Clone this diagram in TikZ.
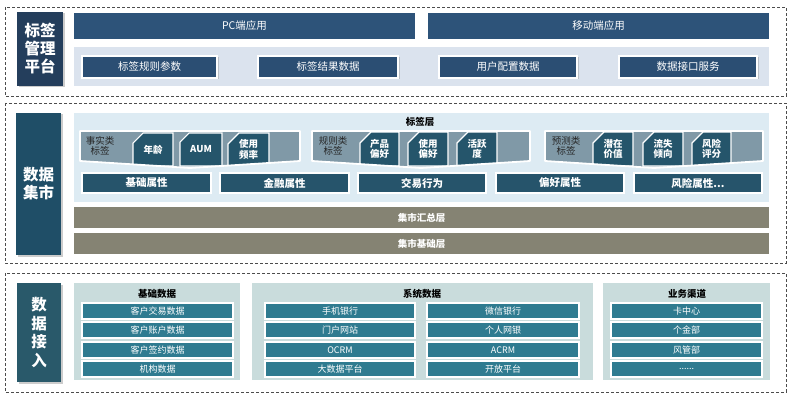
\documentclass[tikz,border=0pt]{standalone}
\usepackage{fontspec}
\setmainfont{Noto Sans CJK SC}
\usetikzlibrary{shapes.misc,shadows}
\definecolor{navyA}{HTML}{243E5C}
\definecolor{barA}{HTML}{2D5379}
\definecolor{btnA}{HTML}{2B4E73}
\definecolor{panelA}{HTML}{DBE3EE}
\definecolor{navyB}{HTML}{1F4E67}
\definecolor{panelB}{HTML}{DDEBF3}
\definecolor{tagdark}{HTML}{25556B}
\definecolor{taggray}{HTML}{8099A7}
\definecolor{attr}{HTML}{26546B}
\definecolor{olive}{HTML}{858373}
\definecolor{navyC}{HTML}{29596A}
\definecolor{panelC}{HTML}{C9DCDC}
\definecolor{itemC}{HTML}{2F7B90}
\newcommand\rbox[7]{%
  \path ({(#3+#5)/2},{(#4+#6)/2}) node[#1, minimum width={(#5-#3)*1pt}, minimum height={(#6-#4)*1pt}] (#2) {#7};}
\begin{document}
\begin{tikzpicture}[x=1pt,y=-1pt,
  dashedframe/.style={draw=black!70, dash pattern=on 3pt off 2pt, line width=0.8pt},
  sidelabel/.style={text=white, font=\fontsize{15.5}{18}\selectfont\bfseries, align=center, inner sep=0pt,
     drop shadow={opacity=0.4, shadow xshift=1.5pt, shadow yshift=-1.5pt}},
  topbar/.style={fill=barA, text=white, font=\fontsize{10.5}{12}\selectfont, inner sep=0pt},
  panel/.style={inner sep=0pt},
  btn/.style={fill=btnA, draw=white, line width=1.5pt, text=white, font=\fontsize{10.5}{12}\selectfont, inner sep=0pt,
     drop shadow={opacity=0.35, shadow xshift=1.5pt, shadow yshift=-1.5pt}},
  tagbox/.style={chamfered rectangle, chamfered rectangle corners=north west, chamfered rectangle xsep=5.5pt, chamfered rectangle ysep=5.5pt,
     fill=tagdark, draw=white, line width=1.2pt, text=white, font=\fontsize{9.5}{10.5}\selectfont\bfseries, align=center, inner sep=0pt},
  grouptext/.style={text=black!85, font=\fontsize{9.5}{9.5}\selectfont, align=center, inner sep=0pt},
  attrbar/.style={fill=attr, draw=white, line width=1.5pt, text=white, font=\fontsize{10.5}{12}\selectfont\bfseries, inner sep=0pt},
  olivebar/.style={fill=olive, text=white, font=\fontsize{9.5}{11}\selectfont\bfseries, inner sep=0pt},
  item/.style={fill=itemC, draw=white, line width=1.5pt, text=white, font=\fontsize{9}{10}\selectfont, inner sep=0pt},
  title/.style={text=black, font=\fontsize{9.5}{11}\selectfont\bfseries, inner sep=0pt}
]
\useasboundingbox (0,0) rectangle (794,398);
\fill[white] (0,0) rectangle (794,398);

% ---------- section 1 ----------
\draw[dashedframe] (5,7) rectangle (786,96);
\rbox{sidelabel,fill=navyA}{lab1}{17}{12}{63}{86}{标签\\管理\\平台}
\rbox{topbar}{pc}{74}{13}{415}{39}{PC端应用}
\rbox{topbar}{mob}{428}{13}{769}{39}{移动端应用}
\rbox{panel,fill=panelA}{p1}{74}{47}{769}{86}{}
\rbox{btn}{b1}{82}{56}{217}{78}{标签规则参数}
\rbox{btn}{b2}{258}{56}{398}{78}{标签结果数据}
\rbox{btn}{b3}{439}{56}{577}{78}{用户配置数据}
\rbox{btn}{b4}{619}{56}{757}{78}{数据接口服务}

% ---------- section 2 ----------
\draw[dashedframe] (5,103) rectangle (786,263);
\rbox{sidelabel,fill=navyB}{lab2}{16}{113}{61}{255}{数据\\集市}
\rbox{panel,fill=panelB}{p2}{74}{113}{769}{202}{}
\node[title] (tl) at (420,122) {标签层};

% group 1
\fill[taggray] (80,131) -- (300,131) -- (300,161) -- (190,168) -- (80,161) -- cycle;
\begin{scope}
\clip (80,131) -- (300,131) -- (300,161) -- (190,168) -- (80,161) -- cycle;
\rbox{tagbox}{t11}{133}{133}{173}{166}{年龄}
\rbox{tagbox}{t12}{180}{133}{222}{166}{AUM}
\rbox{tagbox}{t13}{228}{133}{269}{166}{使用\\频率}
\end{scope}
\draw[white, line width=1.8pt, line join=round] (80,131) -- (300,131) -- (300,161) -- (190,168) -- (80,161) -- cycle;
\node[grouptext] (g1) at (100,146) {事实类\\标签};

% group 2
\fill[taggray] (312,131) -- (530,131) -- (530,161) -- (421,168) -- (312,161) -- cycle;
\begin{scope}
\clip (312,131) -- (530,131) -- (530,161) -- (421,168) -- (312,161) -- cycle;
\rbox{tagbox}{t21}{360}{132}{399}{166}{产品\\偏好}
\rbox{tagbox}{t22}{408}{132}{448}{166}{使用\\偏好}
\rbox{tagbox}{t23}{457}{132}{497}{166}{活跃\\度}
\end{scope}
\draw[white, line width=1.8pt, line join=round] (312,131) -- (530,131) -- (530,161) -- (421,168) -- (312,161) -- cycle;
\node[grouptext] (g2) at (333,146) {规则类\\标签};

% group 3
\fill[taggray] (545,131) -- (763,131) -- (763,161) -- (654,168) -- (545,161) -- cycle;
\begin{scope}
\clip (545,131) -- (763,131) -- (763,161) -- (654,168) -- (545,161) -- cycle;
\rbox{tagbox}{t31}{593}{132}{633}{166}{潜在\\价值}
\rbox{tagbox}{t32}{643}{132}{683}{166}{流失\\倾向}
\rbox{tagbox}{t33}{692}{132}{731}{166}{风险\\评分}
\end{scope}
\draw[white, line width=1.8pt, line join=round] (545,131) -- (763,131) -- (763,161) -- (654,168) -- (545,161) -- cycle;
\node[grouptext] (g3) at (566,146) {预测类\\标签};

% attribute bars
\rbox{attrbar}{a1}{82}{173}{211}{193}{基础属性}
\rbox{attrbar}{a2}{220}{173}{349}{193}{金融属性}
\rbox{attrbar}{a3}{358}{173}{486}{193}{交易行为}
\rbox{attrbar}{a4}{496}{173}{624}{193}{偏好属性}
\rbox{attrbar}{a5}{634}{173}{762}{193}{风险属性...}

\rbox{olivebar}{o1}{74}{207}{769}{228}{集市汇总层}
\rbox{olivebar}{o2}{74}{233}{769}{254}{集市基础层}

% ---------- section 3 ----------
\draw[dashedframe] (5,273) rectangle (786,392);
\rbox{sidelabel,fill=navyC,font=\fontsize{15.5}{18.5}\selectfont\bfseries}{lab3}{17}{283}{61}{382}{数\\据\\接\\入}

\rbox{panel,fill=panelC}{pa}{74}{283}{240}{380}{}
\node[title] (ta) at (157,294) {基础数据};
\rbox{item}{ia1}{82}{303}{233}{319}{客户交易数据}
\rbox{item}{ia2}{82}{322}{233}{338}{客户账户数据}
\rbox{item}{ia3}{82}{342}{233}{358}{客户签约数据}
\rbox{item}{ia4}{82}{361}{233}{377}{机构数据}

\rbox{panel,fill=panelC}{pb}{252}{283}{593}{380}{}
\node[title] (tb) at (422,294) {系统数据};
\rbox{item}{ib1}{265}{303}{415}{319}{手机银行}
\rbox{item}{ib2}{265}{322}{415}{338}{门户网站}
\rbox{item}{ib3}{265}{342}{415}{358}{OCRM}
\rbox{item}{ib4}{265}{361}{415}{377}{大数据平台}
\rbox{item}{ib5}{427}{303}{579}{319}{微信银行}
\rbox{item}{ib6}{427}{322}{579}{338}{个人网银}
\rbox{item}{ib7}{427}{342}{579}{358}{ACRM}
\rbox{item}{ib8}{427}{361}{579}{377}{开放平台}

\rbox{panel,fill=panelC}{pc3}{603}{283}{770}{380}{}
\node[title] (tc) at (687,294) {业务渠道};
\rbox{item}{ic1}{611}{303}{762}{319}{卡中心}
\rbox{item}{ic2}{611}{322}{762}{338}{个金部}
\rbox{item}{ic3}{611}{342}{762}{358}{风管部}
\rbox{item}{ic4}{611}{361}{762}{377}{......}
\end{tikzpicture}
\end{document}
